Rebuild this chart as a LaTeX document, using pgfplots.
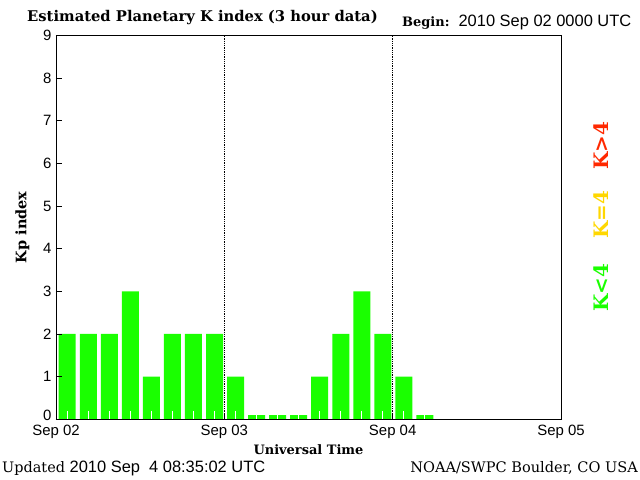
\documentclass[border=0pt]{standalone}
\usepackage{pgfplots}
\pgfplotsset{compat=1.18}
\usepackage{fontspec}
\setmainfont{DejaVu Serif}
\setsansfont{Liberation Sans}

\definecolor{kgreen}{RGB}{26,255,0}
\definecolor{kyellow}{RGB}{255,215,0}
\definecolor{kred}{RGB}{255,40,0}

\begin{document}
\begin{tikzpicture}
    \useasboundingbox (0bp,0bp) rectangle (640bp,480bp);

    \begin{axis}[
        at={(56bp,60.7bp)}, anchor=south west,
        scale only axis,
        width=505bp, height=384bp,
        xmin=0, xmax=72, ymin=0, ymax=9,
        axis on top,
        xtick={0,24,48,72},
        xticklabels={Sep 02,Sep 03,Sep 04,Sep 05},
        ytick={0,...,9},
        yticklabels={\raisebox{8bp}{0},1,2,3,4,5,6,7,8,9},
        tick pos=left,
        tick align=inside,
        major tick length=6bp,
        tick style={black, line width=0.8bp},
        ticklabel style={font=\sffamily\fontsize{15}{15}\selectfont},
        xticklabel style={yshift=-2bp},
        yticklabel style={xshift=-1bp},
        axis line style={line width=0.8bp},
        xlabel={\bfseries Universal Time},
        xlabel style={font=\fontsize{13}{13}\selectfont, yshift=1bp},
        ylabel={\bfseries Kp index},
        ylabel style={font=\fontsize{14.5}{14.5}\selectfont, yshift=7bp},
    ]

    % Kp values, one bar per 3 hours (0 drawn as a sliver)
    \addplot[ybar, bar width=17bp, fill=kgreen, draw=none] coordinates {
        (1.6,2) (4.6,2) (7.6,2) (10.6,3) (13.6,1) (16.6,2) (19.6,2) (22.6,2)
        (25.6,1) (28.6,0.1) (31.6,0.1) (34.6,0.1) (37.6,1) (40.6,2) (43.6,3) (46.6,2)
        (49.6,1) (52.6,0.1)
    };

    % small white marks at bar centres
    \addplot[ycomb, white, line width=1bp, mark=none] coordinates {
        (1.6,0.2) (4.6,0.2) (7.6,0.2) (10.6,0.2) (13.6,0.2) (16.6,0.2) (19.6,0.2) (22.6,0.2)
        (25.6,0.2) (28.6,0.2) (31.6,0.2) (34.6,0.2) (37.6,0.2) (40.6,0.2) (43.6,0.2) (46.6,0.2)
        (49.6,0.2) (52.6,0.2)
    };

    % day separators
    \addplot[black, densely dotted, line width=0.8bp] coordinates {(24,0) (24,9)};
    \addplot[black, densely dotted, line width=0.8bp] coordinates {(48,0) (48,9)};

    \end{axis}

    % titles and notes
    \node[anchor=west, inner sep=0pt, font=\bfseries\fontsize{14.8}{14.8}\selectfont] at (27bp,462bp)
        {Estimated Planetary K index (3 hour data)};
    \node[anchor=west, inner sep=0pt] at (402bp,458bp)
        {\fontsize{13}{13}\selectfont\bfseries Begin:\ \ \mdseries\sffamily\fontsize{16.5}{16.5}\selectfont 2010 Sep 02 0000 UTC};
    \node[anchor=west, inner sep=0pt] at (2bp,12bp)
        {\fontsize{14.5}{14.5}\selectfont Updated\ \sffamily\fontsize{16.5}{16.5}\selectfont 2010 Sep\ \ 4 08:35:02 UTC};
    \node[anchor=east, inner sep=0pt, font=\fontsize{14.6}{14.6}\selectfont] at (638bp,12bp)
        {NOAA/SWPC Boulder, CO USA};

    % activity legend on the right
    \node[rotate=90, text=kred, font=\bfseries\fontsize{20}{20}\selectfont] at (601bp,334bp) {K>4};
    \node[rotate=90, text=kyellow, font=\bfseries\fontsize{20}{20}\selectfont] at (601bp,265bp) {K=4};
    \node[rotate=90, text=kgreen, font=\bfseries\fontsize{20}{20}\selectfont] at (601bp,192bp) {K<4};
\end{tikzpicture}
\end{document}
